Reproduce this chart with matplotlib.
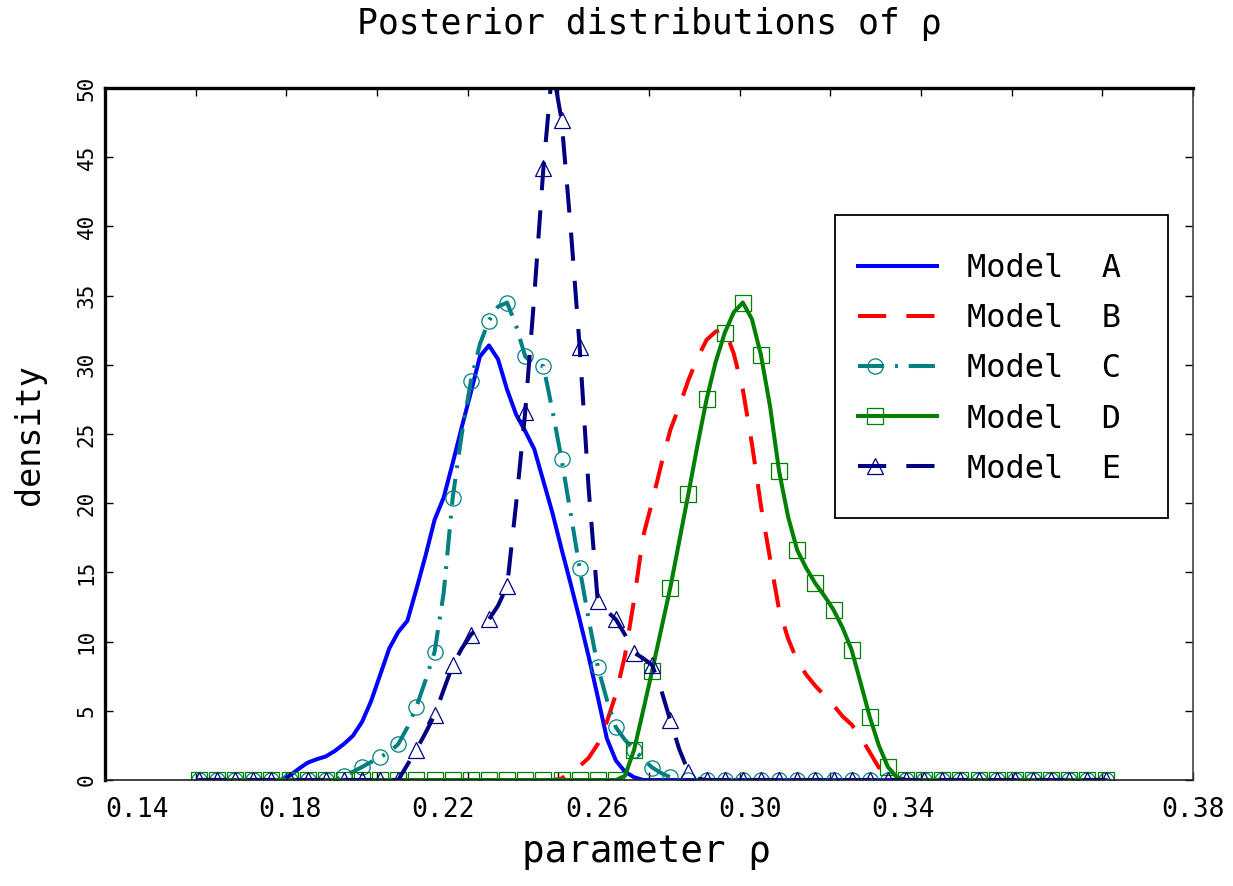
import numpy as np
import matplotlib
matplotlib.use("Agg")
import matplotlib.pyplot as plt
from matplotlib.patches import Rectangle
from matplotlib.legend_handler import HandlerLine2DCompound

# grid of rho values (step 0.002), markers drawn on every second point
rho = np.round(0.1607 + 0.002 * np.arange(101), 4)

model_a = [0.0] * 10 + [0.3, 0.8, 1.25, 1.5, 1.7, 2.1, 2.6, 3.2, 4.2, 5.7,
                        7.6, 9.5, 10.7, 11.5, 13.8, 16.2, 18.8, 20.4, 22.9, 25.5,
                        28.0, 30.6, 31.4, 30.4, 28.2, 26.4, 25.2, 23.9, 21.6, 19.3,
                        16.7, 14.2, 11.6, 8.9, 6.0, 3.0, 1.4, 0.6, 0.2] + [0.0] * 52
model_b = [0.0] * 40 + [0.1, 0.6, 1.0, 1.6, 2.6, 4.2, 6.2, 9.0, 13.0, 17.6,
                        20.1, 22.8, 25.3, 27.0, 28.9, 30.5, 31.8, 32.4, 32.6, 30.8,
                        28.2, 24.3, 19.8, 16.0, 12.3, 10.2, 8.6, 7.6, 6.8, 6.1,
                        5.4, 4.6, 4.0, 3.1, 2.0, 0.9, 0.4, 0.1] + [0.0] * 23
model_c = [0.0] * 16 + [0.3, 0.6, 0.94, 1.3, 1.66, 2.0, 2.6, 3.8, 5.3, 7.2,
                        9.25, 13.5, 20.4, 25.0, 28.8, 31.5, 33.2, 34.2, 34.5, 32.8,
                        30.6, 30.0, 29.9, 26.7, 23.2, 19.3, 15.3, 11.6, 8.2, 5.8,
                        3.8, 2.9, 2.2, 1.5, 0.9, 0.5, 0.2] + [0.0] * 48
model_d = [0.0] * 47 + [0.3, 2.17, 5.0, 7.9, 10.9, 13.9, 17.3, 20.7, 24.2, 27.5,
                        30.2, 32.3, 33.8, 34.5, 33.3, 30.7, 27.0, 22.3, 19.0, 16.6,
                        15.3, 14.2, 13.3, 12.3, 11.0, 9.4, 7.0, 4.55, 2.5, 0.94,
                        0.2] + [0.0] * 23
model_e = [0.0] * 23 + [1.1, 2.2, 3.4, 4.7, 6.5, 8.3, 9.5, 10.5, 11.1, 11.6,
                        12.6, 14.0, 20.0, 26.6, 35.0, 44.2, 51.5, 47.7, 40.0, 31.3,
                        21.0, 12.9, 12.2, 11.6, 10.5, 9.2, 8.8, 8.3, 6.5, 4.3,
                        2.2, 0.6, 0.1] + [0.0] * 45

labels = ["Model  A", "Model  B", "Model  C", "Model  D", "Model  E"]
xtick_labels = ["0.14", "0.18", "0.22", "0.26", "0.30", "0.34", "0.38"]
# where the original figure printed its x labels
xtick_label_pos = [0.1471, 0.1808, 0.2146, 0.2486, 0.2823, 0.3160, 0.37995]

mono = "DejaVu Sans Mono"


class LeftMarker(HandlerLine2DCompound):
    # marker near the left end of the sample line, like the original legend
    def get_xdata(self, legend, xdescent, ydescent, width, height, fontsize):
        return (np.array([-xdescent, -xdescent + width]),
                np.array([-xdescent + 0.22 * width]))


fig = plt.figure(figsize=(12.33, 8.86), dpi=100)
ax = fig.add_axes([105 / 1233, 106 / 886, 1088 / 1233, 692 / 886])

lw = 2.9
mk = dict(mfc="none", mew=0.9, ms=11, markevery=2)
ax.plot(rho, model_a, color="#0000ff", lw=lw, label=labels[0])
ax.plot(rho, model_b, color="#ff0000", lw=lw, ls=(0, (7, 5)), label=labels[1])
ax.plot(rho, model_c, color="#008080", lw=lw, ls=(0, (6.5, 2.7, 0.7, 2.7)),
        marker="o", mec="#008080", label=labels[2], **mk)
ax.plot(rho, model_d, color="#008000", lw=lw, marker="s", mec="#008000",
        label=labels[3], **mk)
ax.plot(rho, model_e, color="#000080", lw=lw, ls=(0, (7, 5)), marker="^",
        mec="#000080", label=labels[4], **mk)

ax.set_xlim(0.14, 0.38)
ax.set_ylim(0, 50)

ax.set_xticks(np.round(np.arange(0.14, 0.381, 0.02), 2))
ax.set_xticklabels([])
ax.set_xticks(xtick_label_pos, minor=True)
ax.set_xticklabels(xtick_labels, minor=True, fontfamily=mono, fontsize=19)
ax.tick_params(axis="x", which="minor", length=0, pad=12)
ax.tick_params(axis="x", which="major", direction="in", length=6, width=1,
               top=True, bottom=True)

ax.set_yticks(range(0, 51, 5))
ax.set_yticklabels([str(v) for v in range(0, 51, 5)], fontfamily=mono,
                   fontsize=15, rotation=90, va="center")
ax.tick_params(axis="y", direction="in", length=6, width=1, left=True,
               right=True, pad=6)

ax.spines["left"].set_linewidth(2.4)
ax.spines["top"].set_linewidth(2.4)
ax.spines["bottom"].set_linewidth(1.2)
ax.spines["right"].set_linewidth(1.2)
ax.spines["bottom"].set_color("#222222")
ax.spines["right"].set_color("#444444")

# legend box as in the original, entries drawn on top
ax.add_patch(Rectangle(((835 - 105) / 1088, (780 - 518) / 692),
                       (1168 - 835) / 1088, (518 - 215) / 692,
                       transform=ax.transAxes, facecolor="white",
                       edgecolor="black", lw=1.3, zorder=5))
handles, labs = ax.get_legend_handles_labels()
leg = ax.legend(handles, labs, loc="upper left",
                bbox_to_anchor=((858 - 105) / 1088, (780 - 253) / 692),
                frameon=False, borderpad=0, borderaxespad=0,
                handlelength=2.46, handletextpad=0.95, labelspacing=0.6,
                prop={"family": mono, "size": 23},
                handler_map={h: LeftMarker() for h in handles})
leg.set_zorder(6)

fig.text(649 / 1233, 1 - 24 / 886, "Posterior distributions of ρ",
         ha="center", va="center", fontsize=25, family=mono)
fig.text(646 / 1233, 1 - 852 / 886, "parameter ρ",
         ha="center", va="center", fontsize=27, family=mono)
fig.text(30 / 1233, 1 - 435 / 886, "density", rotation=90,
         ha="center", va="center", fontsize=24, family=mono)

fig.savefig("out.png", dpi=100)
